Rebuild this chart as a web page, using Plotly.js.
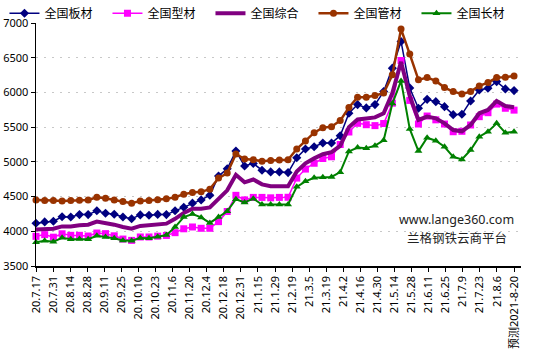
<!DOCTYPE html>
<html>
<head>
<meta charset="utf-8">
<script src="https://cdn.plot.ly/plotly-3.0.1.min.js"></script>
<style>html,body{margin:0;padding:0;background:#fff;}#chart{width:535px;height:353px;}</style>
</head>
<body>
<div id="chart"></div>
<script>
const tickLabels = ['20.7.17','20.7.31','20.8.14','20.8.28','20.9.11','20.9.25','20.10.10','20.10.23','20.11.6','20.11.20','20.12.4','20.12.18','20.12.31','21.1.15','21.1.29','21.2.19','21.3.5','21.3.19','21.4.2','21.4.16','21.4.30','21.5.14','21.5.28','21.6.11','21.6.25','21.7.9','21.7.23','21.8.6','预测2021-8-20'];

const banCai = [4115,4135,4145,4210,4205,4240,4240,4295,4260,4245,
  4205,4180,4236,4230,4243,4240,4295,4347,4405,4452,
  4520,4795,4900,5155,4940,4978,4880,4855,4855,4845,
  5060,5185,5218,5271,5271,5377,5700,5825,5777,5825,
  6012,6350,6734,6065,5772,5900,5867,5795,5680,5685,
  5877,6036,6061,6156,6051,6026];
const xingCai = [3927,3952,3915,3964,3942,3942,3932,3975,3966,3935,
  3888,3869,3918,3918,3930,3940,3980,4036,4062,4043,
  4043,4139,4285,4518,4452,4488,4488,4482,4488,4490,
  4766,4896,4980,5048,5073,5250,5430,5555,5535,5522,
  5552,5845,6460,5885,5545,5660,5605,5545,5434,5440,
  5531,5651,5708,5832,5772,5745];
const zongHe = [4024,4033,4036,4070,4070,4086,4095,4139,4120,4095,
  4062,4038,4077,4084,4092,4110,4180,4265,4325,4325,
  4344,4476,4590,4814,4705,4746,4676,4648,4648,4648,
  4860,4980,5050,5110,5140,5230,5500,5610,5625,5640,
  5700,5990,6440,5950,5603,5651,5627,5555,5458,5440,
  5531,5700,5747,5877,5805,5786];
const guanCai = [4452,4442,4442,4438,4442,4448,4452,4491,4477,4452,
  4428,4405,4438,4442,4455,4467,4491,4535,4558,4568,
  4607,4766,4838,5113,5040,5030,5010,5020,5025,5030,
  5184,5300,5420,5492,5507,5594,5782,5932,5932,5956,
  5990,6253,6913,6552,6181,6214,6166,6070,6012,5978,
  6012,6094,6142,6214,6220,6238];
const changCai = [3842,3862,3848,3906,3886,3889,3886,3935,3918,3899,
  3869,3864,3904,3900,3922,3947,4060,4205,4248,4200,
  4120,4206,4288,4462,4415,4470,4385,4385,4385,4385,
  4640,4720,4770,4780,4783,4852,5150,5207,5195,5233,
  5310,5840,6166,5475,5155,5347,5304,5217,5073,5035,
  5170,5362,5434,5555,5420,5434];

const seriesNames = ['全国板材','全国型材','全国综合','全国管材','全国长材'];
const yTicks = [3500,4000,4500,5000,5500,6000,6500,7000];

const n = banCai.length;
const xs = banCai.map((_, i) => i);
const tickPos = tickLabels.map((_, k) => k * (n - 1) / (tickLabels.length - 1));

const FONT = 'Noto Sans, Noto Sans CJK SC, sans-serif';

const traces = [
  {y: banCai, name: seriesNames[0], mode: 'lines+markers',
   line: {color: '#000080', width: 1.5},
   marker: {symbol: 'diamond', size: 7, color: '#000080'}},
  {y: xingCai, name: seriesNames[1], mode: 'lines+markers',
   line: {color: '#FF00FF', width: 1.5},
   marker: {symbol: 'square', size: 7, color: '#FF00FF'}},
  {y: zongHe, name: seriesNames[2], mode: 'lines',
   line: {color: '#800080', width: 4}},
  {y: guanCai, name: seriesNames[3], mode: 'lines+markers',
   line: {color: '#993300', width: 2.5},
   marker: {symbol: 'circle', size: 7, color: '#993300'}},
  {y: changCai, name: seriesNames[4], mode: 'lines+markers',
   line: {color: '#008000', width: 2},
   marker: {symbol: 'triangle-up', size: 7, color: '#008000'}}
].map(t => Object.assign({x: xs, type: 'scatter', cliponaxis: false}, t));

const layout = {
  width: 535, height: 353,
  margin: {l: 36, r: 14, t: 23, b: 87, pad: 0, autoexpand: false},
  paper_bgcolor: '#fff', plot_bgcolor: '#fff',
  font: {family: FONT, size: 11, color: '#000'},
  showlegend: true,
  legend: {orientation: 'h', x: -0.065, xanchor: 'left', y: 1.04, yanchor: 'middle',
    font: {size: 12, color: '#000'}, entrywidth: 58, entrywidthmode: 'pixels',
    itemwidth: 30, tracegroupgap: 0, bgcolor: 'rgba(0,0,0,0)'},
  xaxis: {range: [0, n - 1 + 0.8], tickmode: 'array', tickvals: tickPos, ticktext: tickLabels,
    tickangle: -90, ticks: 'outside', ticklen: 4, tickcolor: '#000',
    showline: true, linecolor: '#000', linewidth: 1.5, showgrid: false, zeroline: false,
    tickfont: {size: 11, color: '#000'}, fixedrange: true},
  yaxis: {range: [3500, 7000], tickmode: 'array', tickvals: yTicks, ticktext: yTicks.map(String),
    ticks: 'outside', ticklen: 4, tickcolor: '#000',
    showline: true, linecolor: '#000', linewidth: 1.5,
    showgrid: true, gridcolor: '#c8c8c8', gridwidth: 1, griddash: '2px,6px', zeroline: false,
    tickfont: {size: 11, color: '#000'}, fixedrange: true},
  annotations: [
    {text: 'www.lange360.com', xref: 'paper', yref: 'paper', x: 0.868, y: 0.19,
     xanchor: 'center', yanchor: 'middle',
     showarrow: false, font: {size: 12.5, color: '#222'}},
    {text: '兰格钢铁云商平台', xref: 'paper', yref: 'paper', x: 0.868, y: 0.115,
     xanchor: 'center', yanchor: 'middle',
     showarrow: false, font: {size: 12.5, color: '#222'}}
  ]
};

Plotly.newPlot('chart', traces, layout, {displayModeBar: false, staticPlot: true});
</script>
</body>
</html>
